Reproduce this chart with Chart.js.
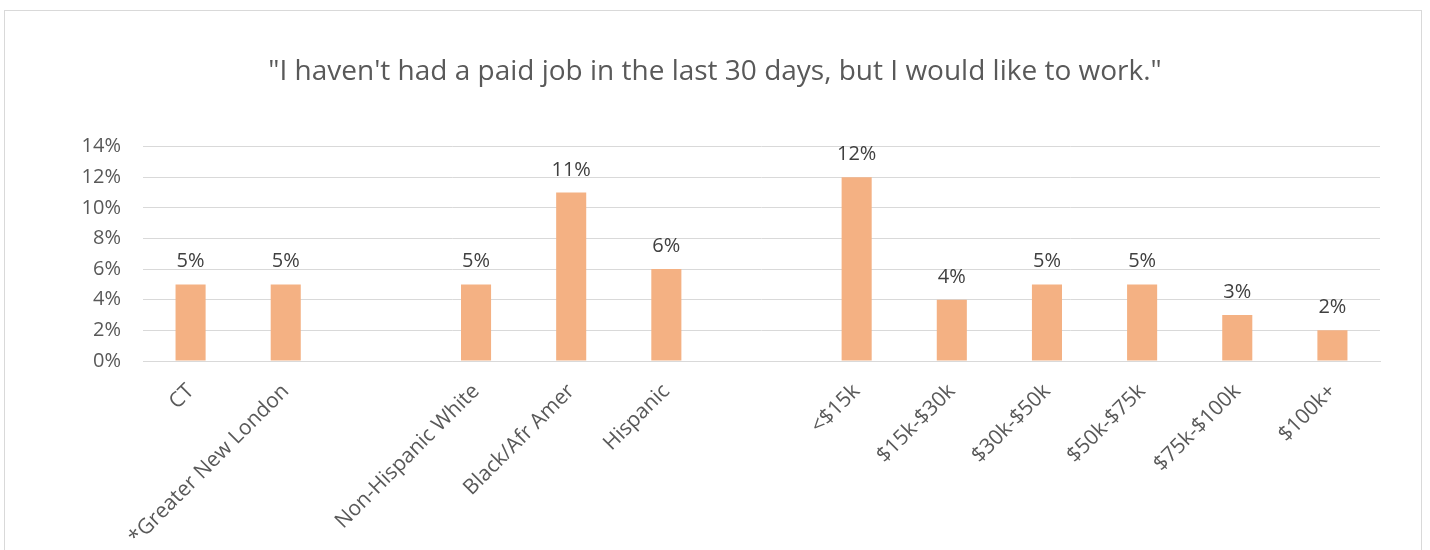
<!DOCTYPE html>
<html>
<head>
<meta charset="utf-8">
<script src="https://cdn.jsdelivr.net/npm/chart.js@4/dist/chart.umd.min.js"></script>
<style>
    html, body { margin: 0; padding: 0; background: #fff; overflow: hidden; }
    #frame { position: absolute; left: 4px; top: 10px; width: 1418px; height: 600px; border: 1px solid #d9d9d9; box-sizing: border-box; }
    #chart { position: absolute; left: 0; top: 0; }
</style>
</head>
<body>
<div id="frame"></div>
<canvas id="chart" width="1430" height="550"></canvas>
<script>
const titleText = '"I haven\'t had a paid job in the last 30 days, but I would like to work."';
const categories = ['CT', '*Greater New London', '', 'Non-Hispanic White', 'Black/Afr Amer', 'Hispanic', '',
    '<$15k', '$15k-$30k', '$30k-$50k', '$50k-$75k', '$75k-$100k', '$100k+'];
const values = [5, 5, null, 5, 11, 6, null, 12, 4, 5, 5, 3, 2];
const yTicks = [0, 2, 4, 6, 8, 10, 12, 14];

const fontFamily = '"Open Sans", sans-serif';
const textColor = '#595959';

// draws the value above each bar
const barLabels = {
    id: 'barLabels',
    afterDatasetsDraw(chart) {
        const ctx = chart.ctx;
        const meta = chart.getDatasetMeta(0);
        ctx.save();
        ctx.font = '20px ' + fontFamily;
        ctx.fillStyle = '#404040';
        ctx.textAlign = 'center';
        ctx.textBaseline = 'alphabetic';
        meta.data.forEach((bar, i) => {
            if (values[i] === null) return;
            ctx.fillText(values[i] + '%', bar.x, bar.y - 17);
        });
        ctx.restore();
    }
};

// centre the title on the whole canvas, not just the padded box
const titleCentre = {
    id: 'titleCentre',
    afterLayout(chart) {
        const t = chart.titleBlock;
        t.left = 0;
        t.right = chart.width;
        t.width = chart.width;
    }
};

new Chart(document.getElementById('chart'), {
    type: 'bar',
    data: {
        labels: categories,
        datasets: [{
            data: values,
            backgroundColor: '#f4b183',
            barPercentage: 1,
            categoryPercentage: 0.316
        }]
    },
    options: {
        responsive: false,
        animation: false,
        devicePixelRatio: 1,
        layout: { padding: { left: 0, right: 50, top: 0, bottom: 0 } },
        plugins: {
            legend: { display: false },
            tooltip: { enabled: false },
            title: {
                display: true,
                text: titleText,
                color: textColor,
                font: { family: fontFamily, size: 28, weight: 'normal' },
                padding: { top: 55, bottom: 58 }
            }
        },
        scales: {
            x: {
                grid: { display: false, drawTicks: false },
                border: { display: true, color: '#d9d9d9' },
                ticks: {
                    color: textColor,
                    font: { family: fontFamily, size: 21 },
                    minRotation: 45,
                    maxRotation: 45,
                    autoSkip: false,
                    padding: 18
                },
                afterFit(scale) { scale.height = 189; }
            },
            y: {
                min: 0,
                max: 14,
                grid: { color: '#d9d9d9', drawTicks: false },
                border: { display: false },
                afterBuildTicks(scale) { scale.ticks = yTicks.map(v => ({ value: v })); },
                ticks: {
                    color: textColor,
                    font: { family: fontFamily, size: 20 },
                    padding: 22,
                    callback: v => v + '%'
                },
                afterFit(scale) { scale.width = 143; }
            }
        }
    },
    plugins: [barLabels, titleCentre]
});
</script>
</body>
</html>
